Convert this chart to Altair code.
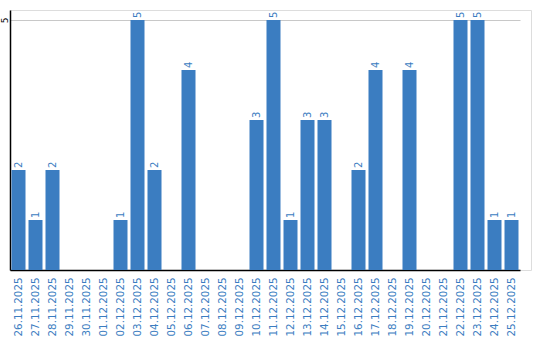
import altair as alt
import pandas as pd

dates = ["26.11.2025", "27.11.2025", "28.11.2025", "29.11.2025", "30.11.2025",
         "01.12.2025", "02.12.2025", "03.12.2025", "04.12.2025", "05.12.2025",
         "06.12.2025", "07.12.2025", "08.12.2025", "09.12.2025", "10.12.2025",
         "11.12.2025", "12.12.2025", "13.12.2025", "14.12.2025", "15.12.2025",
         "16.12.2025", "17.12.2025", "18.12.2025", "19.12.2025", "20.12.2025",
         "21.12.2025", "22.12.2025", "23.12.2025", "24.12.2025", "25.12.2025"]
values = [2, 1, 2, 0, 0, 0, 1, 5, 2, 0, 4, 0, 0, 0, 3,
          5, 1, 3, 3, 0, 2, 4, 0, 4, 0, 0, 5, 5, 1, 1]

df = pd.DataFrame({"date": dates, "value": values})
df["label"] = df["value"].apply(lambda v: str(v) if v > 0 else "")

BLUE = "#3b7dc1"
FONT = "DejaVu Sans"

x = alt.X("date:N", sort=dates, title=None,
          scale=alt.Scale(range=[0, 510], paddingInner=3/17, paddingOuter=3/34),
          axis=alt.Axis(labelAngle=270, labelAlign="right", labelBaseline="middle",
                        labelColor=BLUE, labelFont=FONT, labelFontSize=10.3,
                        labelPadding=7, ticks=False, domainColor="black",
                        domainWidth=1.5, grid=False))
y = alt.Y("value:Q", title=None,
          scale=alt.Scale(domain=[0, 5.2], nice=False),
          axis=alt.Axis(values=[5], labelAngle=270, labelAlign="center",
                        labelBaseline="middle", labelColor="black", labelFont=FONT,
                        labelFontSize=9, labelPadding=6, ticks=False,
                        domainColor="black", domainWidth=1.5,
                        grid=True, gridColor="#c8c8c8", gridWidth=1))

bars = alt.Chart(df).mark_bar(color=BLUE).encode(x=x, y=y)
texts = alt.Chart(df).mark_text(angle=270, align="left", baseline="middle", dx=2,
                                color=BLUE, font=FONT, fontSize=10).encode(
    x=alt.X("date:N", sort=dates), y="value:Q", text="label:N")

chart = alt.layer(bars, texts).properties(
    width=521, height=260,
    autosize=alt.AutoSizeParams(type="none"),
    padding={"left": 10, "top": 10, "right": 9, "bottom": 70},
).configure_view(strokeWidth=0, stroke="transparent").configure(background="white")

chart.save("out.html", embed_options={"renderer": "svg", "actions": False})
